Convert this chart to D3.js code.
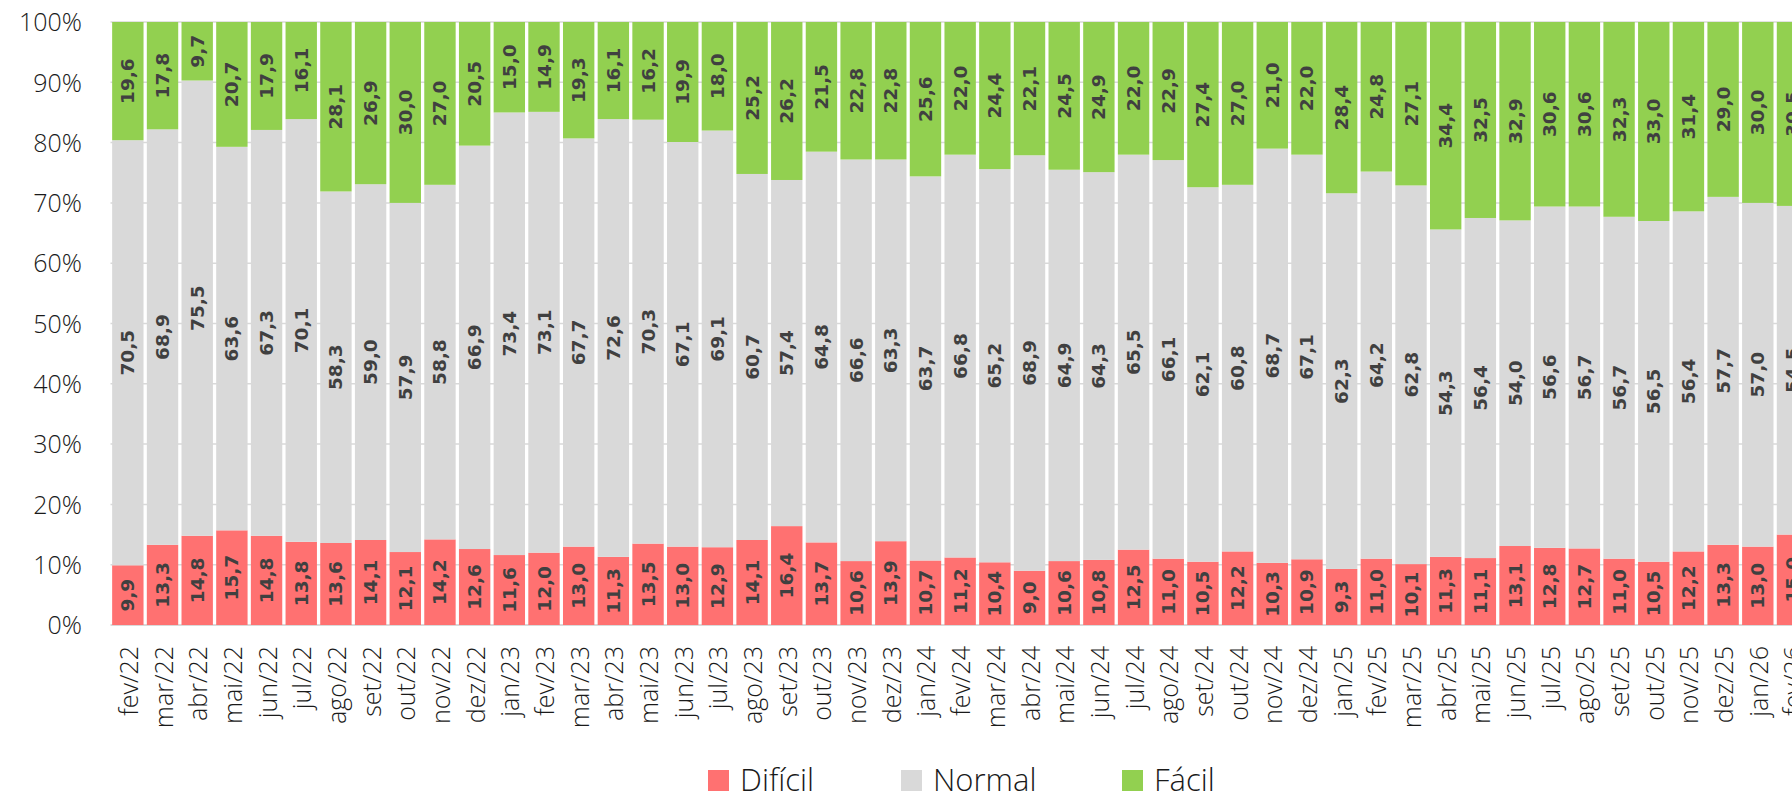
<!DOCTYPE html>
<html>
<head>
<meta charset="utf-8">
<script src="https://cdn.jsdelivr.net/npm/d3@7"></script>
<style>
  body { margin: 0; background: #fff; overflow: hidden; }
  svg { display: block; }
</style>
</head>
<body>
<div id="chart"></div>
<script>
// categories (month/year)
var months = ["fev/22","mar/22","abr/22","mai/22","jun/22","jul/22","ago/22","set/22","out/22","nov/22","dez/22",
  "jan/23","fev/23","mar/23","abr/23","mai/23","jun/23","jul/23","ago/23","set/23","out/23","nov/23","dez/23",
  "jan/24","fev/24","mar/24","abr/24","mai/24","jun/24","jul/24","ago/24","set/24","out/24","nov/24","dez/24",
  "jan/25","fev/25","mar/25","abr/25","mai/25","jun/25","jul/25","ago/25","set/25","out/25","nov/25","dez/25",
  "jan/26","fev/26"];

// series values (%)
var dificil = [9.9,13.3,14.8,15.7,14.8,13.8,13.6,14.1,12.1,14.2,12.6,
  11.6,12.0,13.0,11.3,13.5,13.0,12.9,14.1,16.4,13.7,10.6,13.9,
  10.7,11.2,10.4,9.0,10.6,10.8,12.5,11.0,10.5,12.2,10.3,10.9,
  9.3,11.0,10.1,11.3,11.1,13.1,12.8,12.7,11.0,10.5,12.2,13.3,
  13.0,15.0];
var normal = [70.5,68.9,75.5,63.6,67.3,70.1,58.3,59.0,57.9,58.8,66.9,
  73.4,73.1,67.7,72.6,70.3,67.1,69.1,60.7,57.4,64.8,66.6,63.3,
  63.7,66.8,65.2,68.9,64.9,64.3,65.5,66.1,62.1,60.8,68.7,67.1,
  62.3,64.2,62.8,54.3,56.4,54.0,56.6,56.7,56.7,56.5,56.4,57.7,
  57.0,54.5];
var facil = [19.6,17.8,9.7,20.7,17.9,16.1,28.1,26.9,30.0,27.0,20.5,
  15.0,14.9,19.3,16.1,16.2,19.9,18.0,25.2,26.2,21.5,22.8,22.8,
  25.6,22.0,24.4,22.1,24.5,24.9,22.0,22.9,27.4,27.0,21.0,22.0,
  28.4,24.8,27.1,34.4,32.5,32.9,30.6,30.6,32.3,33.0,31.4,29.0,
  30.0,30.5];

var seriesNames = ["Difícil", "Normal", "Fácil"];
var seriesColors = ["#ff7171", "#d9d9d9", "#92d050"];
var yTicks = [0,10,20,30,40,50,60,70,80,90,100];

var attrs = {
  width: 1792,
  height: 794,
  plotLeft: 110.5,
  plotTop: 22,
  plotBottom: 625,
  step: 34.68,
  labelFont: "'DejaVu Sans', sans-serif",
  axisFont: "'Open Sans', sans-serif",
  labelColor: "#404040"
};

// build rows for the stack
var rows = months.map(function(m, i) {
  var total = dificil[i] + normal[i] + facil[i];
  return {
    month: m,
    "Difícil": dificil[i] / total * 100,
    "Normal": normal[i] / total * 100,
    "Fácil": facil[i] / total * 100,
    raw: { "Difícil": dificil[i], "Normal": normal[i], "Fácil": facil[i] }
  };
});

var stacked = d3.stack().keys(seriesNames)(rows);

var svg = d3.select("#chart").append("svg")
  .attr("width", attrs.width)
  .attr("height", attrs.height);

var x = d3.scaleBand()
  .domain(months)
  .range([attrs.plotLeft, attrs.plotLeft + attrs.step * months.length])
  .paddingInner(0.095)
  .paddingOuter(0.0475);

var y = d3.scaleLinear()
  .domain([0, 100])
  .range([attrs.plotBottom, attrs.plotTop]);

// gridlines (behind bars)
svg.append("g").attr("class", "grid")
  .selectAll("line").data(yTicks).enter().append("line")
  .attr("x1", attrs.plotLeft)
  .attr("x2", attrs.width)
  .attr("y1", function(d) { return y(d); })
  .attr("y2", function(d) { return y(d); })
  .attr("stroke", "#d9d9d9")
  .attr("stroke-width", function(d) { return d === 0 ? 2 : 1.5; });

// bars
var layers = svg.append("g").attr("class", "bars")
  .selectAll("g").data(stacked).enter().append("g")
  .attr("fill", function(d, i) { return seriesColors[i]; });

layers.selectAll("rect").data(function(d) { return d; }).enter().append("rect")
  .attr("x", function(d) { return x(d.data.month); })
  .attr("width", x.bandwidth())
  .attr("y", function(d) { return y(d[1]); })
  .attr("height", function(d) { return y(d[0]) - y(d[1]); });

// data labels
var labelLayers = svg.append("g").attr("class", "labels")
  .selectAll("g").data(stacked).enter().append("g");

labelLayers.selectAll("text").data(function(s) {
    return s.map(function(d) { d.key = s.key; return d; });
  }).enter().append("text")
  .attr("transform", function(d) {
    var cx = x(d.data.month) + x.bandwidth() / 2;
    var cy = y((d[0] + d[1]) / 2);
    return "translate(" + cx + "," + cy + ") rotate(-90)";
  })
  .attr("text-anchor", "middle")
  .attr("dominant-baseline", "central")
  .attr("font-family", attrs.labelFont)
  .attr("font-weight", "bold")
  .attr("font-size", "18.5px")
  .attr("fill", attrs.labelColor)
  .text(function(d) { return d.data.raw[d.key].toFixed(1).replace(".", ","); });

// y axis
var yAxis = svg.append("g").attr("class", "y-axis")
  .attr("transform", "translate(" + 82 + ",0)")
  .call(d3.axisLeft(y).tickValues(yTicks).tickSize(0).tickPadding(0)
    .tickFormat(function(d) { return d + "%"; }));
yAxis.select(".domain").remove();
yAxis.selectAll("text")
  .attr("font-family", attrs.axisFont)
  .attr("font-weight", 300)
  .attr("font-size", "25px")
  .attr("fill", "#1a1a1a")
  .attr("x", 0)
  .attr("dy", "0.35em");

// x axis
var xAxis = svg.append("g").attr("class", "x-axis")
  .attr("transform", "translate(0," + attrs.plotBottom + ")")
  .call(d3.axisBottom(x).tickSize(0));
xAxis.select(".domain").remove();
xAxis.selectAll("text")
  .attr("font-family", attrs.axisFont)
  .attr("font-weight", 300)
  .attr("font-size", "25px")
  .attr("fill", "#1a1a1a")
  .attr("text-anchor", "end")
  .attr("dominant-baseline", "central")
  .attr("x", 0)
  .attr("y", 0)
  .attr("dy", null)
  .attr("transform", "translate(0,21) rotate(-90)");

// legend
var legendX = [708, 901, 1122];
var legend = svg.append("g").attr("class", "legend")
  .selectAll("g").data(seriesNames).enter().append("g")
  .attr("transform", function(d, i) { return "translate(" + legendX[i] + ",770)"; });
legend.append("rect")
  .attr("width", 21).attr("height", 21)
  .attr("fill", function(d, i) { return seriesColors[i]; });
legend.append("text")
  .attr("x", 32).attr("y", 21)
  .attr("font-family", attrs.axisFont)
  .attr("font-weight", 300)
  .attr("font-size", "31px")
  .attr("fill", "#1a1a1a")
  .text(function(d) { return d; });
</script>
</body>
</html>
